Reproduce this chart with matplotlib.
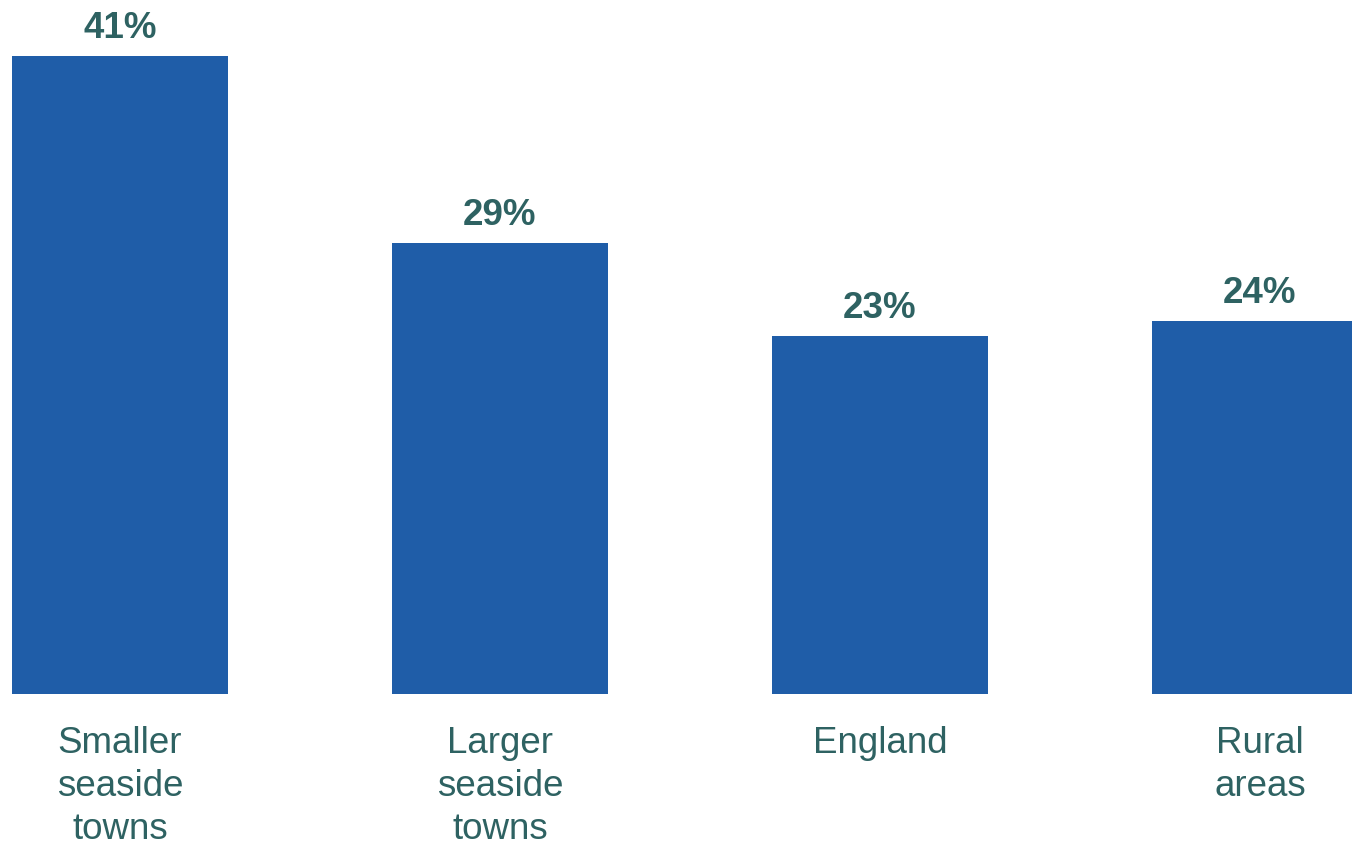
import numpy as np
import matplotlib.pyplot as plt
import matplotlib

matplotlib.rc('font', family=['Liberation Sans', 'DejaVu Sans'])

categories = ['Smaller\nseaside\ntowns', 'Larger\nseaside\ntowns', 'England', 'Rural\nareas']
values = [41, 29, 23, 24]
labels = ['41%', '29%', '23%', '24%']

barColor = '#1F5DA8'
textColor = '#2E6262'

fig = plt.figure(figsize=(13.52, 8.45), dpi=100)
# axes spans full width, baseline at 695 px from top
ax = fig.add_axes([0, 150 / 845, 1, 695 / 845])

x = np.arange(len(categories))
ax.bar(x, values, width=216 / 380, color=barColor)

for xi, v, lab in zip(x, values, labels):
    ax.annotate(lab, (xi, v), xytext=(0, 13.7), textcoords='offset points',
                ha='center', va='baseline', fontsize=26.5, fontweight='bold',
                color=textColor)

ax.set_xlim(-120 / 380, 1232 / 380)
ax.set_ylim(0, 695 / 15.56)
ax.set_xticks(x)
ax.set_xticklabels(categories, fontsize=26.5, color=textColor, linespacing=1.31)
ax.tick_params(axis='x', length=0, pad=22)
ax.set_yticks([])
for s in ax.spines.values():
    s.set_visible(False)

fig.savefig('out.png', dpi=100)
plt.close('all')
